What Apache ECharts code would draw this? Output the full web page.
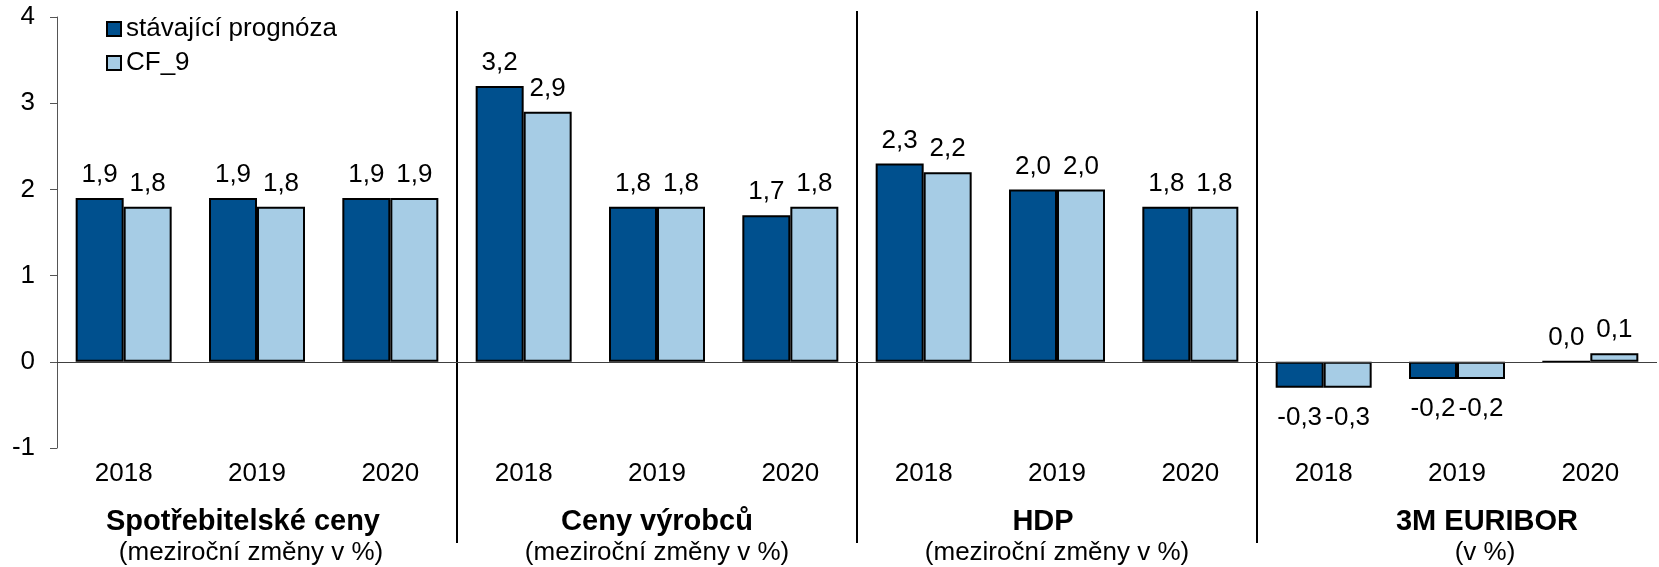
<!DOCTYPE html>
<html>
<head>
<meta charset="utf-8">
<script src="https://cdn.jsdelivr.net/npm/echarts@6/dist/echarts.min.js"></script>
<style>
    html, body { margin: 0; padding: 0; background: #fff; }
    #chartBox { width: 1659px; height: 567px; }
</style>
</head>
<body>
<div id="chartBox"></div>
<script>
var years = ['2018', '2019', '2020'];
var groupTitles = ['Spotřebitelské ceny', 'Ceny výrobců', 'HDP', '3M EURIBOR'];
var groupNotes = ['(meziroční změny v %)', '(meziroční změny v %)', '(meziroční změny v %)', '(v %)'];
var stavajici = [1.9, 1.9, 1.9, 3.2, 1.8, 1.7, 2.3, 2.0, 1.8, -0.3, -0.2, 0.0];
var cf9 = [1.8, 1.8, 1.9, 2.9, 1.8, 1.8, 2.2, 2.0, 1.8, -0.3, -0.2, 0.1];

var fontName = '"Liberation Sans", Arial, sans-serif';

function buildCategories() {
    var list = [];
    for (var g = 0; g < groupTitles.length; g++) {
        for (var i = 0; i < years.length; i++) {
            list.push(years[i]);
        }
    }
    return list;
}

function fmt(p) {
    return p.value.toFixed(1).replace('.', ',');
}

// label above positive/zero bars, below negative ones
function toItems(values) {
    return values.map(function (v) {
        return {
            value: v,
            label: v < 0 ? { position: 'bottom', distance: 17 } : { position: 'top', distance: 10 }
        };
    });
}

function barSeries(name, data, color, withZero) {
    var s = {
        name: name,
        type: 'bar',
        data: toItems(data),
        barGap: 0,
        barCategoryGap: '28%',
        itemStyle: { color: color, borderColor: '#000', borderWidth: 2 },
        label: {
            show: true,
            formatter: fmt,
            color: '#000',
            fontSize: 26,
            fontFamily: fontName
        }
    };
    if (withZero) {
        s.markLine = {
            silent: true,
            symbol: 'none',
            label: { show: false },
            lineStyle: { color: '#404040', width: 1, type: 'solid' },
            data: [{ yAxis: 0 }]
        };
    }
    return s;
}

var chart = echarts.init(document.getElementById('chartBox'));
chart.setOption({
    animation: false,
    textStyle: { fontFamily: fontName },
    grid: { left: 57, right: 2, top: 17, bottom: 119 },
    legend: {
        orient: 'vertical',
        left: 101,
        top: 11,
        itemWidth: 14,
        itemHeight: 14,
        itemGap: 8,
        icon: 'rect',
        textStyle: { fontSize: 26, color: '#000', fontFamily: fontName },
        data: ['stávající prognóza', 'CF_9']
    },
    xAxis: {
        type: 'category',
        data: buildCategories(),
        axisLine: { show: false },
        axisTick: { show: false },
        axisLabel: { color: '#000', fontSize: 26, margin: 13, fontFamily: fontName }
    },
    yAxis: {
        type: 'value',
        min: -1,
        max: 4,
        interval: 1,
        splitLine: { show: false },
        axisLine: { show: true, lineStyle: { color: '#555', width: 1 } },
        axisTick: { show: true, length: 7, lineStyle: { color: '#555' } },
        axisLabel: { color: '#000', fontSize: 26, margin: 22, fontFamily: fontName }
    },
    series: [
        barSeries('stávající prognóza', stavajici, '#00508E', true),
        barSeries('CF_9', cf9, '#A6CCE5', false)
    ]
});

// dividers and group titles placed from the category axis
var titleShift = [-14, 0, -14, 30];
var noteShift = [-6, 0, 0, 28];
var graphics = [];
var n = years.length;
for (var g = 0; g < groupTitles.length; g++) {
    var first = chart.convertToPixel({ xAxisIndex: 0 }, g * n);
    var last = chart.convertToPixel({ xAxisIndex: 0 }, g * n + n - 1);
    var mid = (first + last) / 2;
    graphics.push({
        type: 'text', x: mid + titleShift[g], y: 522,
        style: { text: groupTitles[g], fill: '#000', fontSize: 29, fontWeight: 'bold',
                 fontFamily: fontName, align: 'center', verticalAlign: 'middle' }
    });
    graphics.push({
        type: 'text', x: mid + noteShift[g], y: 553,
        style: { text: groupNotes[g], fill: '#000', fontSize: 26,
                 fontFamily: fontName, align: 'center', verticalAlign: 'middle' }
    });
    if (g > 0) {
        var prev = chart.convertToPixel({ xAxisIndex: 0 }, g * n - 1);
        var bx = Math.round((prev + first) / 2);
        graphics.push({
            type: 'line',
            shape: { x1: bx, y1: 11, x2: bx, y2: 543 },
            style: { stroke: '#000', lineWidth: 2 }
        });
    }
}
chart.setOption({ graphic: graphics });
</script>
</body>
</html>
